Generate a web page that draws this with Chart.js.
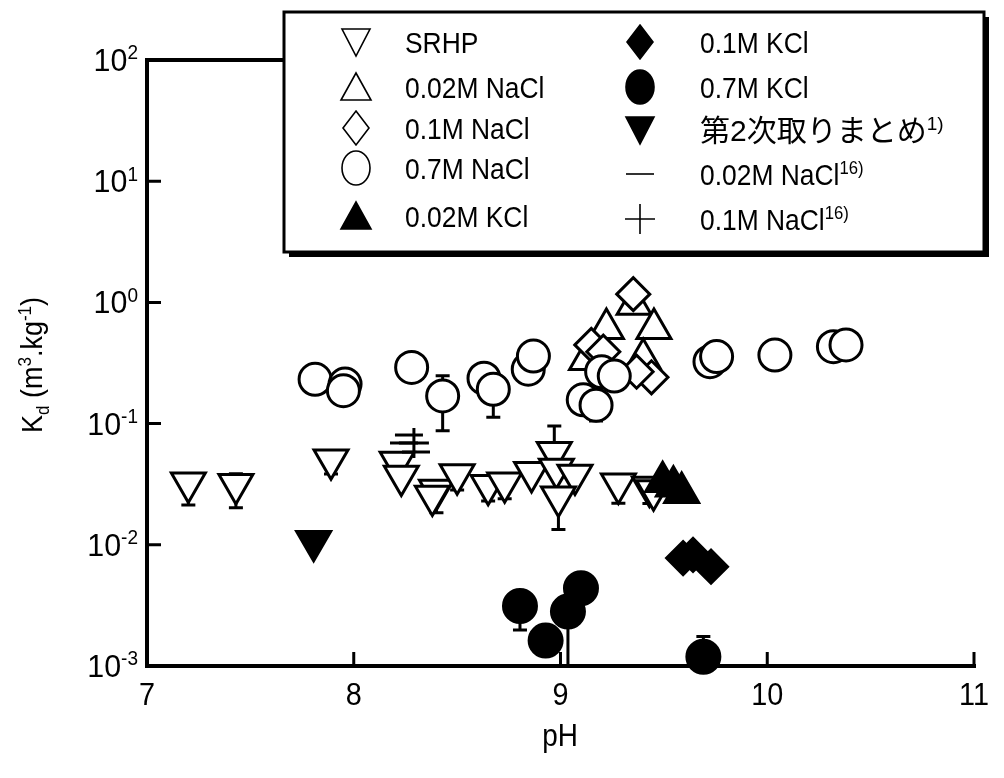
<!DOCTYPE html>
<html>
<head>
<meta charset="utf-8">
<script src="https://cdn.jsdelivr.net/npm/chart.js@4.4.0/dist/chart.umd.min.js"></script>
<style>
    html, body { margin: 0; padding: 0; background: #fff; }
    #wrap { width: 1004px; height: 778px; }
</style>
</head>
<body>
<div id="wrap"><canvas id="myChart" width="1004" height="778"></canvas></div>
<script>
// axis ticks
var xTicks = [7, 8, 9, 10, 11];
var yTicks = [1e-3, 1e-2, 1e-1, 1, 10, 100];
var yTickExp = ["-3", "-2", "-1", "0", "1", "2"];

// SRHP (open down triangles)
var srhpX = [7.20, 7.43, 7.89, 8.21, 8.23, 8.40, 8.38, 8.50, 8.65, 8.73, 8.86, 8.97, 8.98, 9.07, 8.99, 9.28, 9.43, 9.45];
var srhpY = [0.0324, 0.0315, 0.0503, 0.0482, 0.0370, 0.0283, 0.0253, 0.0380, 0.0310, 0.0325, 0.0396, 0.0580, 0.0422, 0.0377, 0.0249, 0.0318, 0.0300, 0.0280];
var srhpLo = [0.0213, 0.0202, 0.0384, null, null, 0.0184, null, 0.0283, 0.0230, 0.0240, null, null, null, null, 0.0134, 0.0220, 0.0219, null];
var srhpHi = [null, 0.0385, null, null, null, null, null, null, null, null, null, 0.0955, null, null, null, null, null, null];

// 0.02M NaCl (open up triangles)
var na002X = [9.356, 9.452, 9.222, 9.40, 9.126];
var na002Y = [0.96, 0.608, 0.608, 0.344, 0.337];

// 0.1M NaCl (open diamonds)
var na01X = [9.352, 9.149, 9.207, 9.44, 9.368];
var na01Y = [1.17, 0.446, 0.392, 0.241, 0.268];

// 0.7M NaCl (open circles)
var na07X = [7.813, 7.958, 7.95, 8.28, 8.43, 8.63, 8.675, 8.844, 8.869, 9.11, 9.172, 9.199, 9.26, 9.723, 9.755, 10.037, 10.32, 10.381];
var na07Y = [0.232, 0.212, 0.187, 0.291, 0.169, 0.237, 0.192, 0.281, 0.361, 0.157, 0.142, 0.268, 0.247, 0.324, 0.357, 0.368, 0.431, 0.446];
var na07Lo = [null, null, null, null, 0.0873, null, 0.113, null, null, null, 0.105, null, null, null, null, null, null, null];
var na07Hi = [null, null, null, null, 0.248, null, null, null, null, null, null, null, null, null, null, null, null, null];

// 0.02M KCl (filled up triangles)
var k002X = [9.494, 9.546, 9.586];
var k002Y = [0.0331, 0.0304, 0.0269];

// 0.1M KCl (filled diamonds)
var k01X = [9.593, 9.641, 9.728];
var k01Y = [0.00778, 0.00824, 0.0066];

// 0.7M KCl (filled circles)
var k07X = [8.804, 8.928, 9.036, 9.099, 9.691];
var k07Y = [0.00313, 0.00162, 0.00281, 0.00438, 0.00119];
var k07Lo = [0.00198, null, 0.001, null, null];
var k07Hi = [null, null, null, null, 0.00175];

// 第2次取りまとめ (filled down triangle)
var h12X = [7.806];
var h12Y = [0.0107];

// literature values (ref. 16)
var lit002X = [8.267, 8.243, 8.301];
var lit002Y = [0.0805, 0.0692, 0.0583];
var lit01X = [8.291];
var lit01Y = [0.0692];

function pts(xs, ys) {
    return xs.map(function (x, i) { return { x: x, y: ys[i] }; });
}

var fontFam = '"Liberation Sans", Arial, "Noto Sans CJK JP", sans-serif';

// text with super/subscripts; parts = [[text, "sup"|"sub"|undefined], ...]
// sx squeezes the glyphs horizontally
function drawRich(ctx, parts, x, y, size, align, sx) {
    sx = sx || 1;
    var small = Math.round(size * 0.64);
    var total = 0;
    var ws = parts.map(function (p) {
        ctx.font = (p[1] ? small : size) + "px " + fontFam;
        var w = ctx.measureText(p[0]).width * sx;
        total += w;
        return w;
    });
    var cx = x;
    if (align === "right") cx = x - total;
    if (align === "center") cx = x - total / 2;
    parts.forEach(function (p, i) {
        ctx.font = (p[1] ? small : size) + "px " + fontFam;
        var dy = 0;
        if (p[1] === "sup") dy = -size * 0.36;
        if (p[1] === "sub") dy = size * 0.22;
        ctx.save();
        ctx.translate(cx, y + dy);
        ctx.scale(sx, 1);
        ctx.fillText(p[0], 0, 0);
        ctx.restore();
        cx += ws[i];
    });
}

// legend glyphs, thinner than the plotted markers
function drawSym(ctx, kind, filled, x, y) {
    ctx.beginPath();
    if (kind === "down") {
        ctx.moveTo(x - 14, y - 13); ctx.lineTo(x + 14, y - 13); ctx.lineTo(x, y + 14); ctx.closePath();
    } else if (kind === "up") {
        ctx.moveTo(x - 15, y + 13); ctx.lineTo(x + 15, y + 13); ctx.lineTo(x, y - 14); ctx.closePath();
    } else if (kind === "diamond") {
        ctx.moveTo(x, y - 17); ctx.lineTo(x + 13, y); ctx.lineTo(x, y + 17); ctx.lineTo(x - 13, y); ctx.closePath();
    } else if (kind === "circle") {
        ctx.ellipse(x, y, 14, 17, 0, 0, Math.PI * 2);
    } else if (kind === "dash") {
        ctx.moveTo(x - 14, y); ctx.lineTo(x + 14, y);
    } else if (kind === "cross") {
        ctx.moveTo(x - 15, y); ctx.lineTo(x + 15, y);
        ctx.moveTo(x, y - 15); ctx.lineTo(x, y + 15);
    }
    if (filled) {
        ctx.fill();
    }
    ctx.stroke();
}

var decor = {
    id: "decor",
    beforeDatasetsDraw: function (chart) {
        var ctx = chart.ctx;
        var a = chart.chartArea;
        var xs = chart.scales.x, ys = chart.scales.y;
        ctx.save();
        ctx.strokeStyle = "#000";
        ctx.lineCap = "butt";

        // frame: left, bottom, top
        ctx.lineWidth = 4;
        ctx.beginPath();
        ctx.moveTo(a.right + 2, a.bottom);
        ctx.lineTo(a.left, a.bottom);
        ctx.lineTo(a.left, a.top);
        ctx.lineTo(a.right, a.top);
        ctx.stroke();

        // inward tick marks
        ctx.lineWidth = 3;
        ctx.beginPath();
        yTicks.forEach(function (v) {
            var py = ys.getPixelForValue(v);
            ctx.moveTo(a.left, py);
            ctx.lineTo(a.left + 14, py);
        });
        xTicks.forEach(function (v) {
            var px = xs.getPixelForValue(v);
            ctx.moveTo(px, a.bottom);
            ctx.lineTo(px, a.bottom - 14);
        });
        ctx.stroke();

        // error bars (markers are drawn over them)
        ctx.lineWidth = 3;
        chart.data.datasets.forEach(function (ds) {
            if (!ds.errLo && !ds.errHi) return;
            ds.data.forEach(function (p, i) {
                var px = xs.getPixelForValue(p.x);
                var py = ys.getPixelForValue(p.y);
                [ds.errLo, ds.errHi].forEach(function (arr) {
                    if (!arr || arr[i] == null) return;
                    var ey = ys.getPixelForValue(arr[i]);
                    ctx.beginPath();
                    ctx.moveTo(px, py);
                    ctx.lineTo(px, ey);
                    ctx.moveTo(px - 7, ey);
                    ctx.lineTo(px + 7, ey);
                    ctx.stroke();
                });
            });
        });
        ctx.restore();
    },
    afterDraw: function (chart) {
        var ctx = chart.ctx;
        var xs = chart.scales.x, ys = chart.scales.y;
        ctx.save();
        ctx.fillStyle = "#000";
        ctx.textBaseline = "alphabetic";

        // tick labels
        yTicks.forEach(function (v, i) {
            var py = ys.getPixelForValue(v);
            drawRich(ctx, [["10"], [yTickExp[i], "sup"]], 138, py + 11, 32, "right", 0.95);
        });
        xTicks.forEach(function (v) {
            drawRich(ctx, [[String(v)]], xs.getPixelForValue(v), 705, 32, "center", 0.9);
        });

        // axis titles
        drawRich(ctx, [["pH"]], 560, 746, 31, "center", 0.9);
        ctx.save();
        ctx.translate(42, 365);
        ctx.rotate(-Math.PI / 2);
        drawRich(ctx, [["K"], ["d", "sub"], [" (m"], ["3", "sup"], [".kg"], ["-1", "sup"], [")"]], 0, 0, 30, "center", 0.9);
        ctx.restore();

        // legend box with drop shadow
        var bx = 284, by = 12, bw = 700, bh = 240;
        ctx.fillStyle = "#000";
        ctx.fillRect(bx + 5, by + 5, bw, bh);
        ctx.fillStyle = "#fff";
        ctx.fillRect(bx, by, bw, bh);
        ctx.lineWidth = 3;
        ctx.strokeStyle = "#000";
        ctx.strokeRect(bx, by, bw, bh);

        ctx.lineWidth = 1.6;
        chart.data.datasets.forEach(function (ds, i) {
            var col = i < 5 ? 0 : 1;
            var row = i % 5;
            var sx = col ? 640 : 356;
            var tx = col ? 700 : 405;
            var sy = col ? [42, 87, 130, 174, 219][row] : [42, 87, 128, 168, 216][row];
            ctx.fillStyle = "#000";
            drawSym(ctx, ds.legendSym, ds.pointBackgroundColor === "#000", sx, sy);
            var parts = [[ds.label]];
            if (ds.sup) parts.push([ds.sup, "sup"]);
            drawRich(ctx, parts, tx, sy + 11, 30, "left", ds.wideText ? 1 : 0.88);
        });
        ctx.restore();
    }
};

function ds(label, x, y, style, filled, extra) {
    var d = {
        label: label,
        data: pts(x, y),
        pointStyle: style,
        pointRadius: 16,
        pointHoverRadius: 16,
        pointBorderWidth: 3,
        pointBorderColor: "#000",
        pointBackgroundColor: filled ? "#000" : "#fff",
        clip: false
    };
    for (var k in extra) d[k] = extra[k];
    return d;
}

var config = {
    type: "scatter",
    data: {
        datasets: [
            ds("SRHP", srhpX, srhpY, "triangle", false, { pointRadius: 19.6, pointRotation: 180, errLo: srhpLo, errHi: srhpHi, legendSym: "down", order: 9 }),
            ds("0.02M NaCl", na002X, na002Y, "triangle", false, { pointRadius: 19.6, legendSym: "up", order: 6 }),
            ds("0.1M NaCl", na01X, na01Y, "rectRot", false, { pointRadius: 16.5, legendSym: "diamond", order: 5 }),
            ds("0.7M NaCl", na07X, na07Y, "circle", false, { errLo: na07Lo, errHi: na07Hi, legendSym: "circle", order: 4 }),
            ds("0.02M KCl", k002X, k002Y, "triangle", true, { pointRadius: 19.6, legendSym: "up", order: 3 }),
            ds("0.1M KCl", k01X, k01Y, "rectRot", true, { pointRadius: 16.5, legendSym: "diamond", order: 3 }),
            ds("0.7M KCl", k07X, k07Y, "circle", true, { pointRadius: 16.5, errLo: k07Lo, errHi: k07Hi, legendSym: "circle", order: 3 }),
            ds("第2次取りまとめ", h12X, h12Y, "triangle", true, { pointRadius: 19.6, pointRotation: 180, sup: "1)", legendSym: "down", wideText: true, order: 3 }),
            ds("0.02M NaCl", lit002X, lit002Y, "line", false, { pointRadius: 14, sup: "16)", legendSym: "dash", order: 2 }),
            ds("0.1M NaCl", lit01X, lit01Y, "cross", false, { pointRadius: 15, sup: "16)", legendSym: "cross", order: 1 })
        ]
    },
    options: {
        responsive: false,
        animation: false,
        events: [],
        layout: { padding: { left: 147, right: 30, top: 60, bottom: 112 } },
        plugins: { legend: { display: false }, tooltip: { enabled: false } },
        scales: {
            x: {
                type: "linear",
                min: 7,
                max: 11,
                ticks: { display: false },
                grid: { display: false, drawTicks: false },
                border: { display: false }
            },
            y: {
                type: "logarithmic",
                min: 1e-3,
                max: 1e2,
                ticks: { display: false },
                grid: { display: false, drawTicks: false },
                border: { display: false }
            }
        }
    },
    plugins: [decor]
};

var myChart = new Chart(document.getElementById("myChart"), config);
</script>
</body>
</html>
